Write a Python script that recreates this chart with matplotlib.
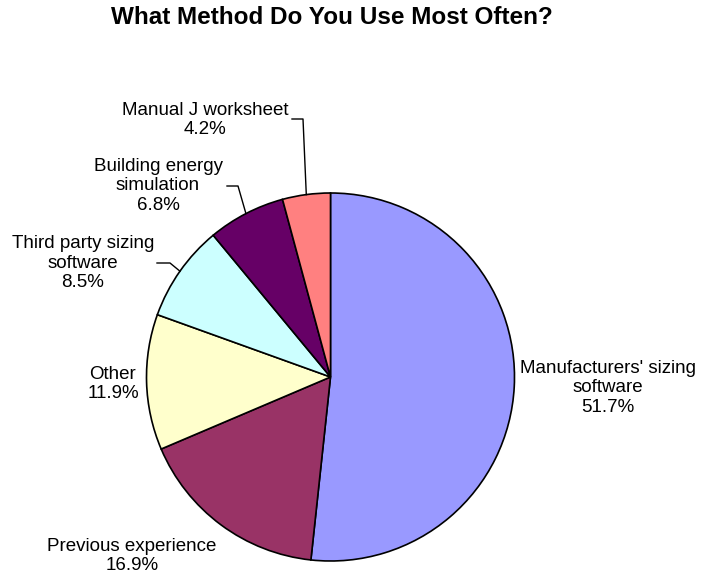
import numpy as np
import matplotlib.pyplot as plt

# survey answers, clockwise from 12 o'clock
methods = ["Manufacturers' sizing\nsoftware", "Previous experience", "Other",
           "Third party sizing\nsoftware", "Building energy\nsimulation", "Manual J worksheet"]
shares = [51.7, 16.9, 11.9, 8.5, 6.8, 4.2]
colors = ["#9999FF", "#993366", "#FFFFCC", "#CCFFFF", "#660066", "#FF8080"]

W, H = 701, 581

def py(y):
    # pixel row (from top) -> axes y
    return H - y

fig = plt.figure(figsize=(W / 100, H / 100), dpi=100)
ax = fig.add_axes([0, 0, 1, 1])

cx, cy, r = 330.5, py(377), 184
ax.pie(shares, colors=colors, startangle=90, counterclock=False,
       center=(cx, cy), radius=r, frame=True,
       wedgeprops=dict(edgecolor="black", linewidth=1.2))
ax.set_xlim(0, W)
ax.set_ylim(0, H)
ax.set_aspect("equal")
ax.axis("off")

font = "Liberation Sans"
fig.text(332 / W, 1 - 18 / H, "What Method Do You Use Most Often?", ha="center", va="center",
         fontsize=17.5, fontweight="bold", family=font)

# label centres (x, y from top)
label_pos = [(608, 388), (132, 556), (113, 384), (83, 263), (158, 186), (205, 120)]
for name, val, (lx, ly) in zip(methods, shares, label_pos):
    ax.text(lx, py(ly), f"{name}\n{val}%", ha="center", va="center",
            fontsize=13.5, family=font, linespacing=1.2)

# leader lines for the small slices: label side -> elbow -> slice mid-point
cum = np.cumsum(shares)
mids = cum - np.array(shares) / 2
leaders = {5: [(292, 119), (303, 119)], 4: [(227, 186), (238, 186)], 3: [(157, 263), (170, 263)]}
for i, pts in leaders.items():
    ang = np.deg2rad(90 - mids[i] / 100 * 360)
    ex, ey = cx + r * np.cos(ang), cy + r * np.sin(ang)
    xs = [p[0] for p in pts] + [ex]
    ys = [py(p[1]) for p in pts] + [ey]
    ax.plot(xs, ys, color="black", linewidth=1)

fig.savefig("out.png", dpi=100, facecolor="white")
